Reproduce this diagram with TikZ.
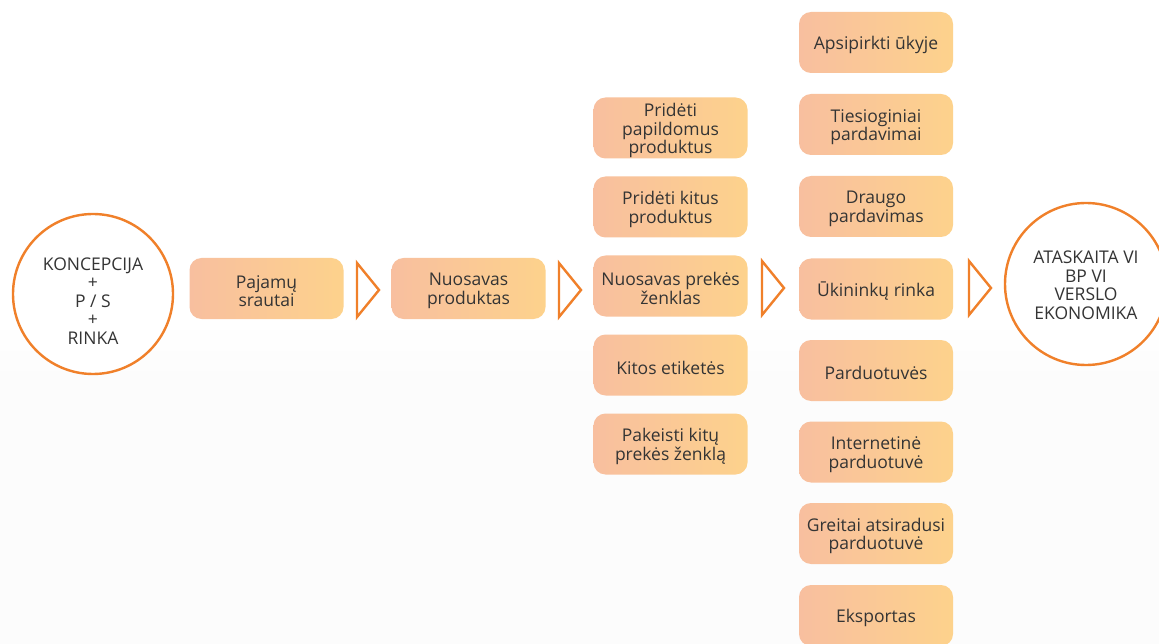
\documentclass[tikz,border=0pt]{standalone}
\usepackage{fontspec}
\setmainfont{Open Sans}
\usetikzlibrary{calc}
\definecolor{ink}{RGB}{52,52,52}
\definecolor{orng}{RGB}{240,128,42}
\definecolor{peachL}{RGB}{248,191,159}
\definecolor{peachR}{RGB}{253,210,140}
\definecolor{offwhite}{RGB}{252,252,252}
\tikzset{
  stepbox/.style={rounded corners=12pt, minimum width=154pt, minimum height=61pt,
    left color=peachL, right color=peachR, draw=none, inner sep=0pt},
  steptext/.style={text=ink, align=center, inner sep=0pt, font=\fontsize{17.5}{18.5}\selectfont},
  bigcircle/.style={circle, draw=orng, line width=2.4pt, fill=white, minimum size=160pt, inner sep=0pt},
  chev/.style={draw=orng, line width=2.4pt, line join=miter},
}
\newcommand{\chevron}[1]{\draw[chev] ($(#1)+(-11,-27)$) -- ($(#1)+(11,0)$) -- ($(#1)+(-11,27)$) -- cycle;}
\newcommand{\stepnode}[3]{%
  \node[stepbox] (#1) at (#2) {};
  \node[steptext] (#1-t) at ($(#1.center)+(0,2.5)$) {#3};}
\begin{document}
\begin{tikzpicture}[x=1pt,y=-1pt]
\useasboundingbox (0,0) rectangle (1159,644);
\fill[white] (0,0) rectangle (1159,644);
\shade[top color=white, bottom color=offwhite] (0,320) rectangle (1159,380);
\fill[offwhite] (0,379.5) rectangle (1159,644);
% circles
\node[bigcircle] (start) at (93,294) {};
\node[steptext] (start-t) at ($(start.center)+(0,7)$) {KONCEPCIJA\\+\\P / S\\+\\RINKA};
\node[bigcircle, minimum size=162pt] (end) at (1086,284) {};
\node[steptext] (end-t) at ($(end.center)+(0,1)$) {ATASKAITA VI\\BP VI\\VERSLO\\EKONOMIKA};
% main row
\stepnode{pajamu}{266.5,288.5}{Pajamų\\srautai}
\stepnode{nuosavas}{468.5,288.5}{Nuosavas\\produktas}
% column 3
\stepnode{c1}{670.5,128}{Pridėti\\papildomus\\produktus}
\stepnode{c2}{670.5,207}{Pridėti kitus\\produktus}
\stepnode{c3}{670.5,286}{Nuosavas prekės\\ženklas}
\stepnode{c4}{670.5,365}{Kitos etiketės}
\stepnode{c5}{670.5,444}{Pakeisti kitų\\prekės ženklą}
% column 4
\stepnode{d1}{876,42.5}{Apsipirkti ūkyje}
\stepnode{d2}{876,124.5}{Tiesioginiai\\pardavimai}
\stepnode{d3}{876,206.5}{Draugo\\pardavimas}
\stepnode{d4}{876,289}{Ūkininkų rinka}
\stepnode{d5}{876,370.5}{Parduotuvės}
\stepnode{d6}{876,452}{Internetinė\\parduotuvė}
\stepnode{d7}{876,533.5}{Greitai atsiradusi\\parduotuvė}
\stepnode{d8}{876,615.5}{Eksportas}
% chevrons
\coordinate (k1) at (368,290);
\coordinate (k2) at (570,290);
\coordinate (k3) at (773,288);
\coordinate (k4) at (980,288);
\chevron{k1}
\chevron{k2}
\chevron{k3}
\chevron{k4}
\end{tikzpicture}
\end{document}
